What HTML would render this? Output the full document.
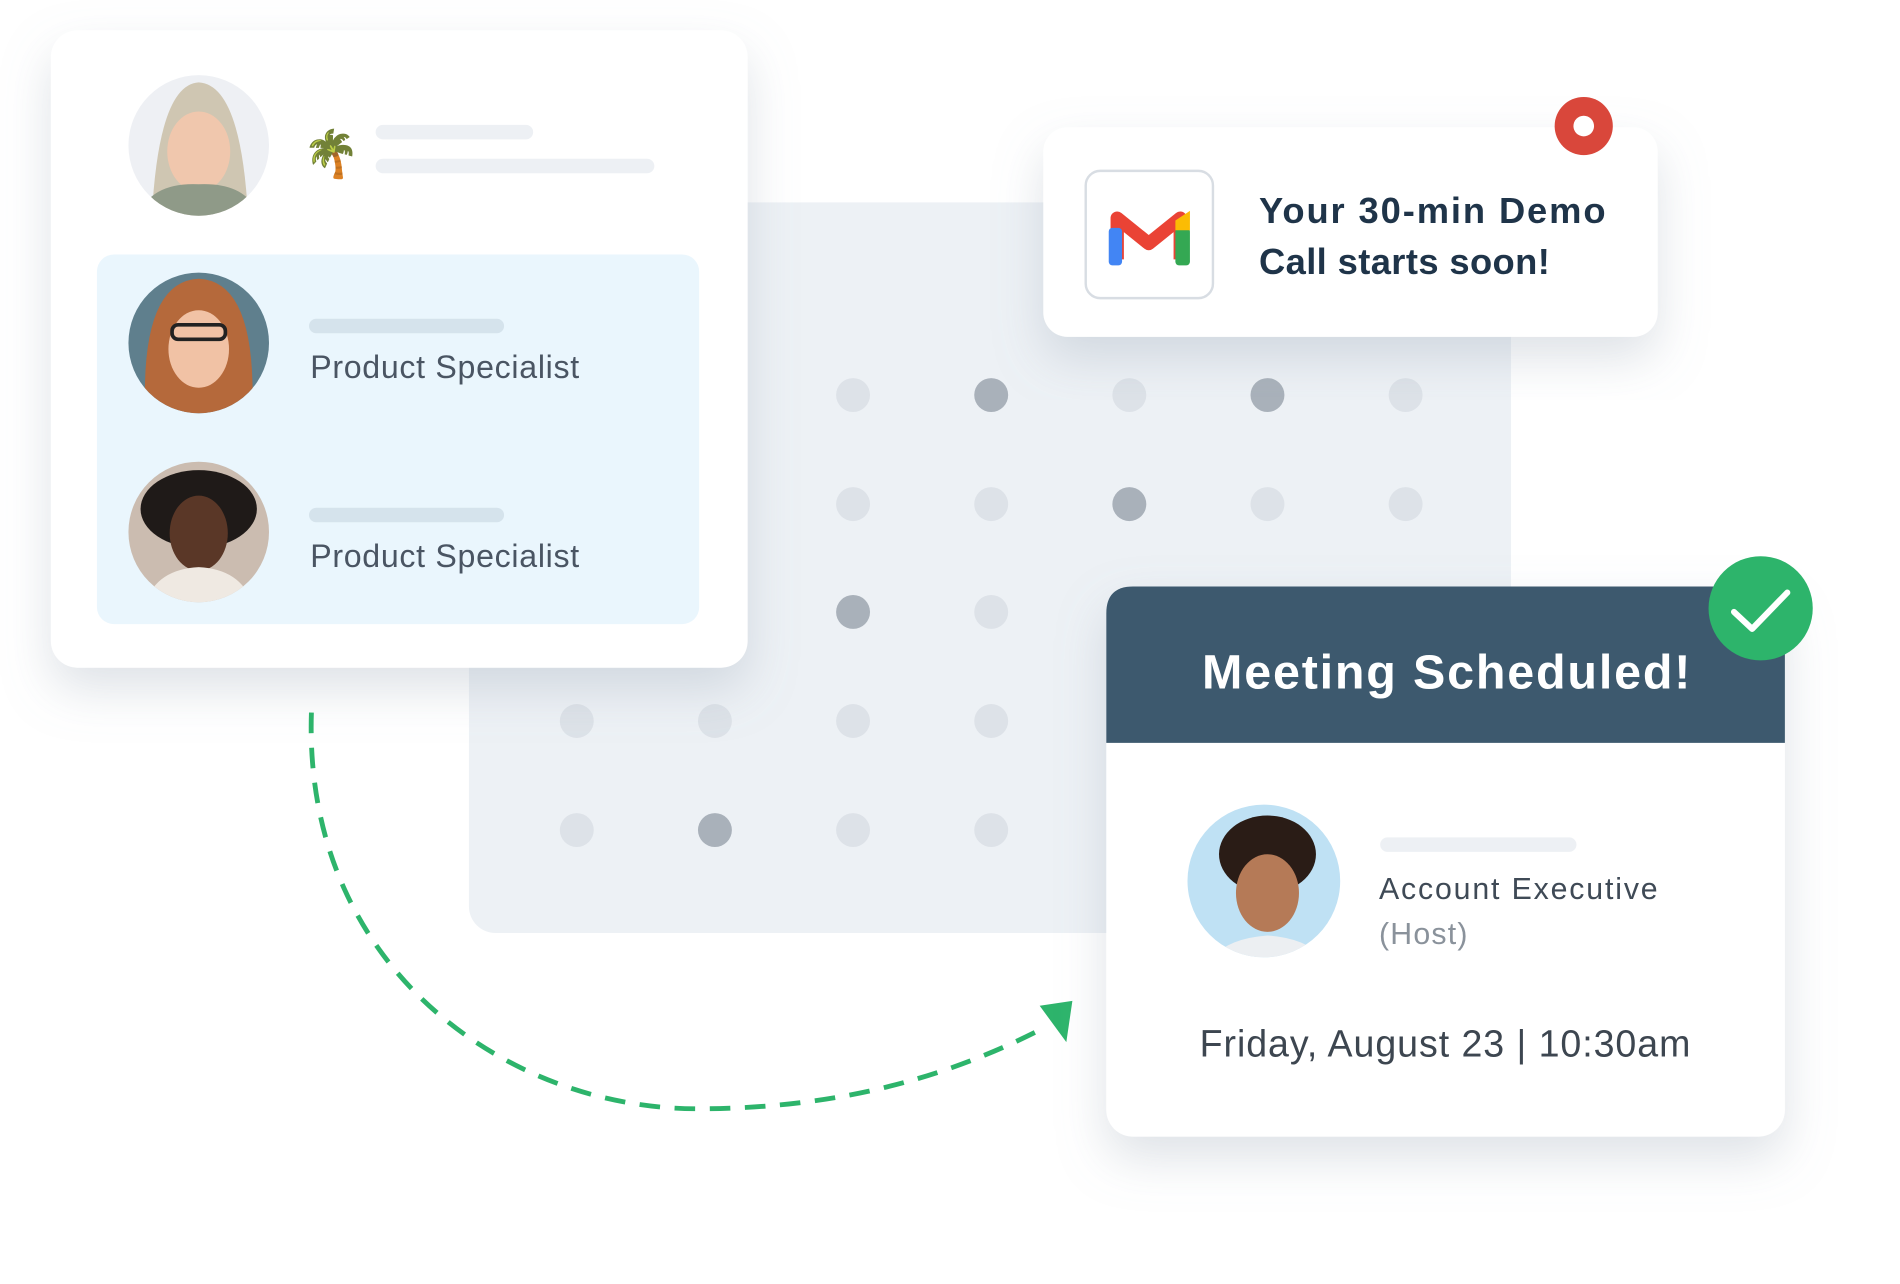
<!DOCTYPE html>
<html><head><meta charset="utf-8"><style>
html,body{margin:0;padding:0;background:#fff;width:1900px;height:1284px;overflow:hidden}
svg{display:block}
text{font-family:"Liberation Sans",sans-serif}
</style></head><body>
<svg width="1900" height="1284" viewBox="0 0 1568 1059.6" xmlns="http://www.w3.org/2000/svg">
<defs>
<filter id="sh" x="-20%" y="-20%" width="140%" height="150%"><feDropShadow dx="0" dy="18" stdDeviation="20" flood-color="#8a96a8" flood-opacity="0.28"/></filter>
<clipPath id="c1"><circle cx="164" cy="120" r="58"/></clipPath>
<clipPath id="c2"><circle cx="164" cy="283" r="58"/></clipPath>
<clipPath id="c3"><circle cx="164" cy="439" r="58"/></clipPath>
<clipPath id="c4"><circle cx="1043" cy="727" r="63"/></clipPath>
</defs>
<rect x="387" y="167" width="860" height="603" rx="22" fill="#edf1f5"/>
<g fill="#dde2e8">
<circle cx="704" cy="326" r="14"/><circle cx="932" cy="326" r="14"/><circle cx="1160" cy="326" r="14"/>
<circle cx="704" cy="416" r="14"/><circle cx="818" cy="416" r="14"/><circle cx="1046" cy="416" r="14"/><circle cx="1160" cy="416" r="14"/>
<circle cx="818" cy="505" r="14"/>
<circle cx="476" cy="595" r="14"/><circle cx="590" cy="595" r="14"/><circle cx="704" cy="595" r="14"/><circle cx="818" cy="595" r="14"/>
<circle cx="476" cy="685" r="14"/><circle cx="704" cy="685" r="14"/><circle cx="818" cy="685" r="14"/>
</g>
<g fill="#a9b1ba">
<circle cx="818" cy="326" r="14"/><circle cx="1046" cy="326" r="14"/><circle cx="932" cy="416" r="14"/><circle cx="704" cy="505" r="14"/><circle cx="590" cy="685" r="14"/>
</g>
<rect x="42" y="25" width="575" height="526" rx="22" fill="#fff" filter="url(#sh)"/>
<rect x="80" y="210" width="497" height="305" rx="14" fill="#eaf6fd"/>
<g clip-path="url(#c1)"><rect x="100" y="55" width="130" height="130" fill="#eef0f4"/><path d="M125 185 Q130 70 164 68 Q200 70 205 185Z" fill="#cfc6b2"/><ellipse cx="164" cy="125" rx="26" ry="33" fill="#f0c7ad"/><path d="M112 185 Q120 150 164 152 Q208 150 216 185Z" fill="#8f9a88"/></g>
<g clip-path="url(#c2)"><rect x="100" y="220" width="130" height="130" fill="#5f7f8d"/><path d="M120 345 Q115 232 164 230 Q213 232 208 345Z" fill="#b5693b"/><ellipse cx="164" cy="288" rx="25" ry="32" fill="#f1c2a5"/><rect x="142" y="268" width="44" height="12" rx="5" fill="none" stroke="#222" stroke-width="3"/></g>
<g clip-path="url(#c3)"><rect x="100" y="375" width="130" height="130" fill="#cbbcb0"/><ellipse cx="164" cy="420" rx="48" ry="32" fill="#1f1a18"/><ellipse cx="164" cy="440" rx="24" ry="31" fill="#5a3727"/><path d="M118 505 Q125 470 164 468 Q203 470 210 505Z" fill="#efe9e2"/></g>
<text x="250" y="140" font-size="38">🌴</text>
<rect x="310" y="103" width="130" height="12" rx="6" fill="#edf0f4"/>
<rect x="310" y="131" width="230" height="12" rx="6" fill="#edf0f4"/>
<rect x="255" y="263" width="161" height="12" rx="6" fill="#d5e3ec"/>
<rect x="255" y="419" width="161" height="12" rx="6" fill="#d5e3ec"/>
<text x="256" y="312" font-size="26.5" fill="#4a5563" textLength="222" lengthAdjust="spacing">Product Specialist</text>
<text x="256" y="468" font-size="26.5" fill="#4a5563" textLength="222" lengthAdjust="spacing">Product Specialist</text>
<rect x="861" y="105" width="507" height="173" rx="20" fill="#fff" filter="url(#sh)"/>
<rect x="896" y="141" width="105" height="105" rx="12" fill="#fff" stroke="#d8dde3" stroke-width="2"/>
<path d="M922 214 V180 L948 201 L974 180 V214" fill="none" stroke="#ea4335" stroke-width="11" stroke-linejoin="round"/>
<rect x="915" y="188" width="11" height="31" rx="3" fill="#4285f4"/>
<rect x="970" y="188" width="12" height="31" rx="3" fill="#34a853"/>
<path d="M970 182 L982 174 V190 L970 190Z" fill="#fbbc04"/>
<text x="1039" y="184" font-size="30" font-weight="bold" fill="#1f3449" textLength="286" lengthAdjust="spacing">Your 30-min Demo</text>
<text x="1039" y="226" font-size="30" font-weight="bold" fill="#1f3449" textLength="240" lengthAdjust="spacing">Call starts soon!</text>
<circle cx="1307" cy="104" r="24" fill="#d9473b"/><circle cx="1307" cy="104" r="8.5" fill="#fff"/>
<path d="M257 588 C250 800 420 915 575 915 C700 915 790 885 862 848" fill="none" stroke="#2db46b" stroke-width="4" stroke-dasharray="17 12"/>
<path d="M858 830 L885 826 L880 860Z" fill="#2db46b"/>
<rect x="913" y="484" width="560" height="454" rx="22" fill="#fff" filter="url(#sh)"/>
<path d="M913 613 V506 Q913 484 935 484 H1451 Q1473 484 1473 506 V613Z" fill="#3d596e"/>
<text x="992" y="568" font-size="40" font-weight="bold" fill="#fff" textLength="403" lengthAdjust="spacing">Meeting Scheduled!</text>
<circle cx="1453" cy="502" r="43" fill="#2db46b"/>
<path d="M1431 505 L1446 519 L1475 489" fill="none" stroke="#fff" stroke-width="5" stroke-linecap="round" stroke-linejoin="round"/>
<g clip-path="url(#c4)"><rect x="975" y="660" width="140" height="140" fill="#bfe1f4"/><ellipse cx="1046" cy="705" rx="40" ry="32" fill="#2a1c16"/><ellipse cx="1046" cy="737" rx="26" ry="32" fill="#b57a57"/><path d="M995 800 Q1005 775 1046 772 Q1087 775 1097 800Z" fill="#eceff2"/></g>
<rect x="1139" y="691" width="162" height="12" rx="6" fill="#edf0f4"/>
<text x="1138" y="742" font-size="25" fill="#3f4a56" textLength="230" lengthAdjust="spacing">Account Executive</text>
<text x="1138" y="779" font-size="25" fill="#8a929b" textLength="73" lengthAdjust="spacing">(Host)</text>
<text x="990" y="872" font-size="31" fill="#3d4650" textLength="405" lengthAdjust="spacing">Friday, August 23 | 10:30am</text>
</svg>
</body></html>
